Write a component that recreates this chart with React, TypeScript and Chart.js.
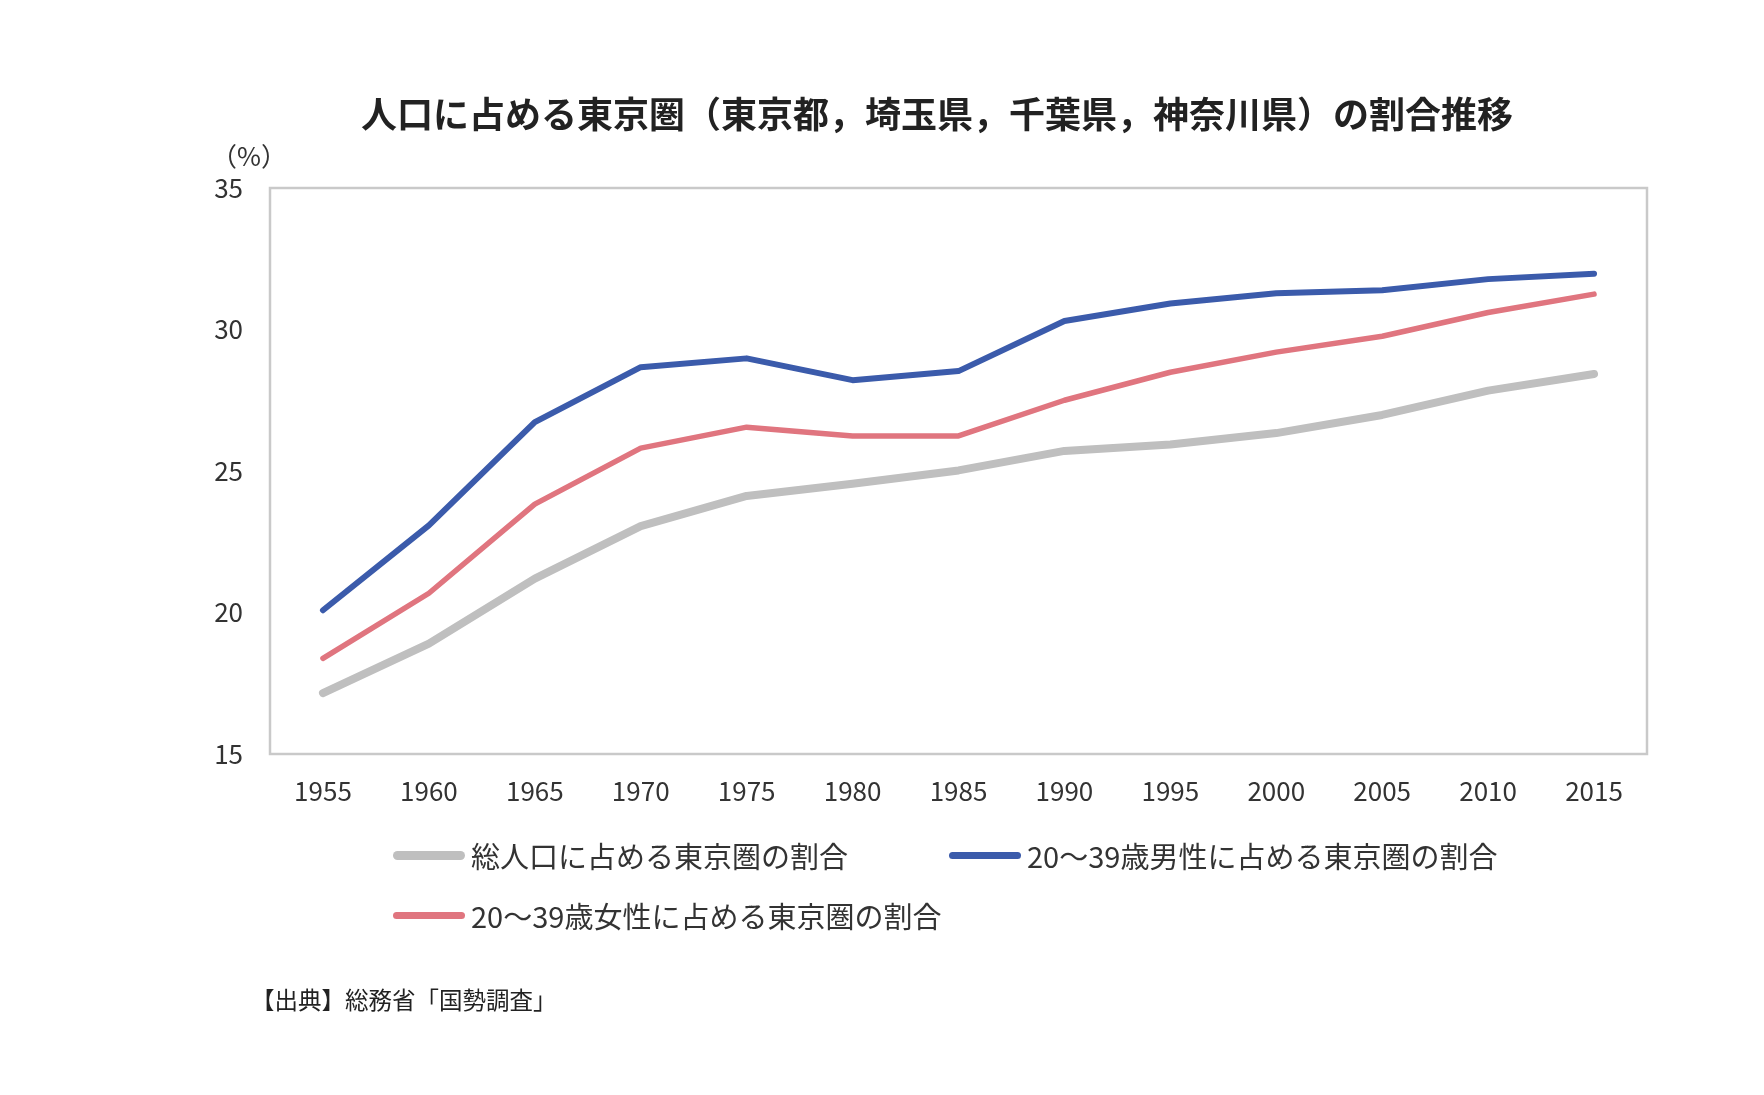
import React, { useEffect, useRef } from "react";
import { Chart, registerables } from "chart.js";

Chart.register(...registerables);

const years = ["1955", "1960", "1965", "1970", "1975", "1980", "1985", "1990", "1995", "2000", "2005", "2010", "2015"];
const totalShare = [17.15, 18.9, 21.2, 23.05, 24.12, 24.55, 25.02, 25.71, 25.94, 26.34, 26.98, 27.84, 28.43];
const maleShare = [20.08, 23.08, 26.73, 28.67, 28.98, 28.21, 28.53, 30.3, 30.92, 31.28, 31.39, 31.78, 31.97];
const femaleShare = [18.38, 20.68, 23.83, 25.81, 26.55, 26.24, 26.24, 27.5, 28.49, 29.2, 29.76, 30.6, 31.25];
const seriesLabels = [
  "総人口に占める東京圏の割合",
  "20～39歳男性に占める東京圏の割合",
  "20～39歳女性に占める東京圏の割合",
];
const seriesColors = ["#bfbfbf", "#3b5bab", "#e0757f"];
const seriesWidths = [8, 6, 5.5];
const legendWidths = [9, 7, 7];
const yMin = 15;
const yMax = 35;
const yStep = 5;
const titleText = "人口に占める東京圏（東京都，埼玉県，千葉県，神奈川県）の割合推移";
const unitText = "（%）";
const sourceText = "【出典】総務省「国勢調査」";

const FONT = "'Noto Sans CJK JP', 'Noto Sans', sans-serif";

const framePlugin = {
  id: "frame",
  beforeDatasetsDraw(chart: any) {
    const { ctx, chartArea: a } = chart;
    ctx.save();
    ctx.strokeStyle = "#c9c9c9";
    ctx.lineWidth = 2.5;
    ctx.strokeRect(a.left, a.top, a.right - a.left, a.bottom - a.top);
    ctx.restore();
  },
};

export default function App() {
  const canvasRef = useRef<HTMLCanvasElement | null>(null);

  useEffect(() => {
    if (!canvasRef.current) return;
    const dataSets = [totalShare, maleShare, femaleShare];
    const chart = new Chart(canvasRef.current, {
      type: "line",
      data: {
        labels: years,
        datasets: dataSets.map((d, i) => ({
          label: seriesLabels[i],
          data: d,
          borderColor: seriesColors[i],
          backgroundColor: seriesColors[i],
          borderWidth: seriesWidths[i],
          borderCapStyle: "round",
          borderJoinStyle: "round",
          pointRadius: 0,
          pointHoverRadius: 0,
          tension: 0,
          fill: false,
        })),
      },
      options: {
        responsive: false,
        animation: false,
        devicePixelRatio: 1,
        layout: { padding: { left: 0, right: 117, top: 188, bottom: 261 } },
        plugins: {
          legend: { display: false },
          title: { display: false },
          tooltip: { enabled: false },
        },
        scales: {
          x: {
            type: "category",
            offset: true,
            grid: { display: false, drawTicks: false, tickLength: 0 },
            border: { display: false },
            ticks: {
              color: "#333333",
              font: { family: FONT, size: 26 },
              padding: 22,
              maxRotation: 0,
              autoSkip: false,
            },
            afterFit(scale: any) {
              scale.height = 80;
            },
          },
          y: {
            min: yMin,
            max: yMax,
            grid: { display: false, drawTicks: false, tickLength: 0 },
            border: { display: false },
            ticks: {
              stepSize: yStep,
              color: "#333333",
              font: { family: FONT, size: 26 },
              padding: 27,
            },
            afterFit(scale: any) {
              scale.width = 270;
            },
          },
        },
      },
      plugins: [framePlugin],
    } as any);
    return () => chart.destroy();
  }, []);

  return (
    <div
      style={{
        position: "absolute",
        left: 0,
        top: 0,
        width: 1764,
        height: 1095,
        background: "#ffffff",
        fontFamily: FONT,
        overflow: "hidden",
      }}
    >
      <canvas ref={canvasRef} width={1764} height={1095} style={{ position: "absolute", left: 0, top: 0, width: 1764, height: 1095 }} />
      <div
        style={{
          position: "absolute",
          left: 337,
          top: 92,
          width: 1200,
          textAlign: "center",
          fontSize: 36,
          lineHeight: "40px",
          fontWeight: 700,
          color: "#222222",
          whiteSpace: "nowrap",
        }}
      >
        {titleText}
      </div>
      <div
        style={{
          position: "absolute",
          left: 199,
          top: 139,
          width: 100,
          textAlign: "center",
          fontSize: 26,
          lineHeight: "32px",
          color: "#333333",
        }}
      >
        {unitText}
      </div>
      <div
        style={{
          position: "absolute",
          left: 393,
          top: 825,
          display: "grid",
          gridTemplateColumns: "556px auto",
          gridAutoRows: "60px",
        }}
      >
        {seriesLabels.map((lab, i) => (
          <div key={i} style={{ display: "flex", alignItems: "center", height: 60 }}>
            <div
              style={{
                width: 72,
                height: legendWidths[i],
                borderRadius: legendWidths[i] / 2,
                background: seriesColors[i],
                marginRight: 6,
              }}
            />
            <span style={{ fontSize: 29, lineHeight: "36px", color: "#333333", whiteSpace: "nowrap" }}>{lab}</span>
          </div>
        ))}
      </div>
      <div
        style={{
          position: "absolute",
          left: 251,
          top: 984,
          fontSize: 23.5,
          lineHeight: "30px",
          color: "#222222",
          whiteSpace: "nowrap",
        }}
      >
        {sourceText}
      </div>
    </div>
  );
}
